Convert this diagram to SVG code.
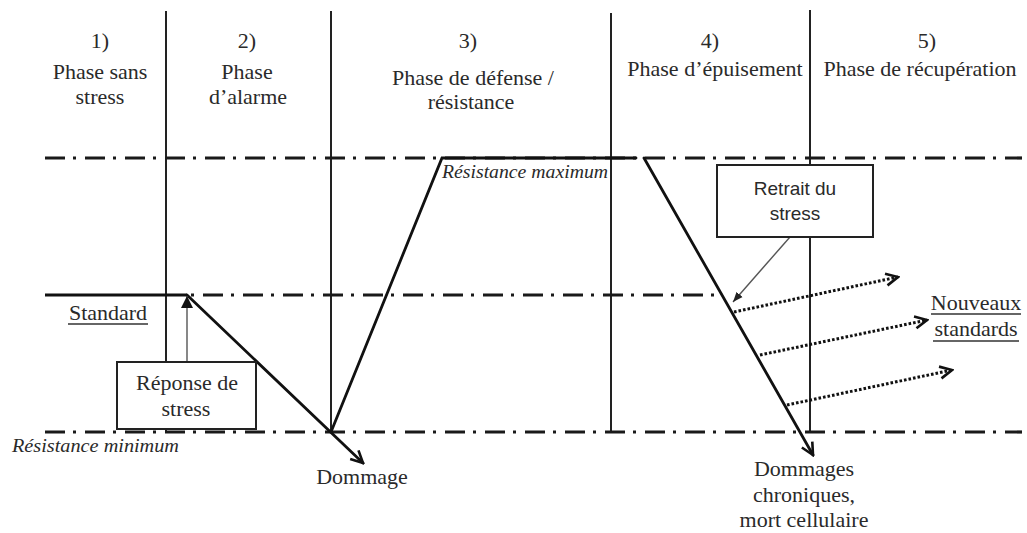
<svg xmlns="http://www.w3.org/2000/svg" width="1027" height="533" viewBox="0 0 1027 533">
<style>
text{font-family:"Liberation Serif","DejaVu Serif",serif}
.t{font-size:22px;fill:#2a2a2a;text-anchor:middle}
.it{font-size:19.5px;font-style:italic;fill:#2a2a2a}
.sans{font-family:"Liberation Sans",sans-serif;font-size:19px;fill:#2a2a2a;text-anchor:middle}
.vl{stroke:#222;stroke-width:2;fill:none}
.dd{stroke:#1a1a1a;stroke-width:3.2;fill:none;stroke-dasharray:20 8 3 9}
.thick{stroke:#111;stroke-width:2.8;fill:none;stroke-linecap:round}
.dot{stroke:#111;stroke-width:3;fill:none;stroke-dasharray:2.6 2}
.thin{stroke:#555;stroke-width:1.4;fill:none}
.box{fill:#fff;stroke:#222;stroke-width:2}
.ul{stroke:#333;stroke-width:1.5}
</style>
<defs>
<marker id="chev" viewBox="0 0 16 16" markerWidth="16" markerHeight="16" refX="14" refY="8" orient="auto" markerUnits="userSpaceOnUse">
<path d="M2,2 L14,8 L2,14" fill="none" stroke="#111" stroke-width="2.6"/>
</marker>
<marker id="tri" viewBox="0 0 12 12" markerWidth="12" markerHeight="12" refX="12" refY="6" orient="auto" markerUnits="userSpaceOnUse">
<path d="M0,0 L12,6 L0,12 Z" fill="#111"/>
</marker>
<marker id="tris" viewBox="0 0 10 10" markerWidth="10" markerHeight="10" refX="10" refY="5" orient="auto" markerUnits="userSpaceOnUse">
<path d="M0,1 L10,5 L0,9 Z" fill="#222"/>
</marker>
</defs>
<rect width="1027" height="533" fill="#fff"/>

<g id="phase-lines">
<line class="vl" x1="166" y1="11" x2="166" y2="432"/>
<line class="vl" x1="331" y1="11" x2="331" y2="432"/>
<line class="vl" x1="611" y1="13" x2="611" y2="432"/>
<line class="vl" x1="810" y1="10" x2="810" y2="432"/>
</g>

<g id="levels">
<line class="dd" x1="45" y1="158" x2="1022" y2="158"/>
<line class="dd" x1="191" y1="295" x2="718" y2="295" style="stroke-dasharray:3 9 20 8"/>
<line class="dd" x1="45" y1="432" x2="1022" y2="432"/>
</g>

<g id="headers">
<text class="t" x="100" y="48" style="font-family:'Liberation Serif',serif">1)</text>
<text class="t" x="100" y="79" style="font-family:'Liberation Serif',serif">Phase sans</text>
<text class="t" x="100" y="104" style="font-family:'Liberation Serif',serif">stress</text>
<text class="t" x="247" y="48" style="font-family:'Liberation Serif',serif">2)</text>
<text class="t" x="247" y="79" style="font-family:'Liberation Serif',serif">Phase</text>
<text class="t" x="248" y="104" style="font-family:'Liberation Serif',serif">d’alarme</text>
<text class="t" x="468" y="48" style="font-family:'Liberation Serif',serif">3)</text>
<text class="t" x="473" y="85" style="font-family:'Liberation Serif',serif">Phase de défense /</text>
<text class="t" x="471" y="109" style="font-family:'Liberation Serif',serif">résistance</text>
<text class="t" x="710" y="48" style="font-family:'Liberation Serif',serif">4)</text>
<text class="t" x="715" y="76" style="font-family:'Liberation Serif',serif">Phase d’épuisement</text>
<text class="t" x="927" y="48" style="font-family:'Liberation Serif',serif">5)</text>
<text class="t" x="920" y="76" style="font-family:'Liberation Serif',serif">Phase de récupération</text>
</g>

<g id="connectors">
<line class="thick" x1="45" y1="295" x2="187" y2="295" style="stroke-linecap:butt"/>
<line class="thick" x1="187" y1="295" x2="363" y2="463" marker-end="url(#chev)"/>
<polyline class="thick" points="331,432 442,158 636,158" style="stroke-linejoin:miter"/>
<line class="thick" x1="644" y1="158" x2="813" y2="455" marker-end="url(#chev)"/>
<line class="thin" x1="187" y1="362" x2="187" y2="296" marker-end="url(#tri)"/>
<line class="thin" x1="790" y1="237" x2="733" y2="302" marker-end="url(#tris)"/>
<line class="dot" x1="734" y1="312" x2="898" y2="277" marker-end="url(#chev)"/>
<line class="dot" x1="760" y1="355" x2="927" y2="320" marker-end="url(#chev)"/>
<line class="dot" x1="787" y1="405" x2="952" y2="370" marker-end="url(#chev)"/>
</g>

<g id="node-reponse">
<rect class="box" x="117" y="362" width="139" height="67"/>
<text class="t" x="187" y="390" style="font-family:'Liberation Serif',serif">Réponse de</text>
<text class="t" x="186" y="416" style="font-family:'Liberation Serif',serif">stress</text>
</g>

<g id="node-retrait">
<rect class="box" x="717" y="165" width="156" height="72"/>
<text class="sans" x="795" y="195">Retrait du</text>
<text class="sans" x="795" y="220">stress</text>
</g>

<g id="label-standard">
<text class="t" x="108" y="320">Standard</text>
<line class="ul" x1="68" y1="324" x2="148" y2="324"/>
</g>

<g id="label-nouveaux">
<text class="t" x="976" y="310">Nouveaux</text>
<line class="ul" x1="931" y1="314" x2="1021" y2="314"/>
<text class="t" x="976" y="336">standards</text>
<line class="ul" x1="933" y1="341" x2="1019" y2="341"/>
</g>

<g id="label-resmax">
<text class="it" x="442" y="178" textLength="166" lengthAdjust="spacingAndGlyphs" style="font-family:'Liberation Serif',serif">Résistance maximum</text>
</g>

<g id="label-resmin">
<text class="it" x="12" y="452" textLength="167" lengthAdjust="spacingAndGlyphs" style="font-family:'Liberation Serif',serif">Résistance minimum</text>
</g>

<g id="label-dommage">
<text class="t" x="362" y="484" style="font-family:'Liberation Serif',serif">Dommage</text>
</g>

<g id="label-dommages">
<text class="t" x="804" y="476" style="font-family:'Liberation Serif',serif">Dommages</text>
<text class="t" x="804" y="502" style="font-family:'Liberation Serif',serif">chroniques,</text>
<text class="t" x="804" y="527" style="font-family:'Liberation Serif',serif">mort cellulaire</text>
</g>
</svg>
